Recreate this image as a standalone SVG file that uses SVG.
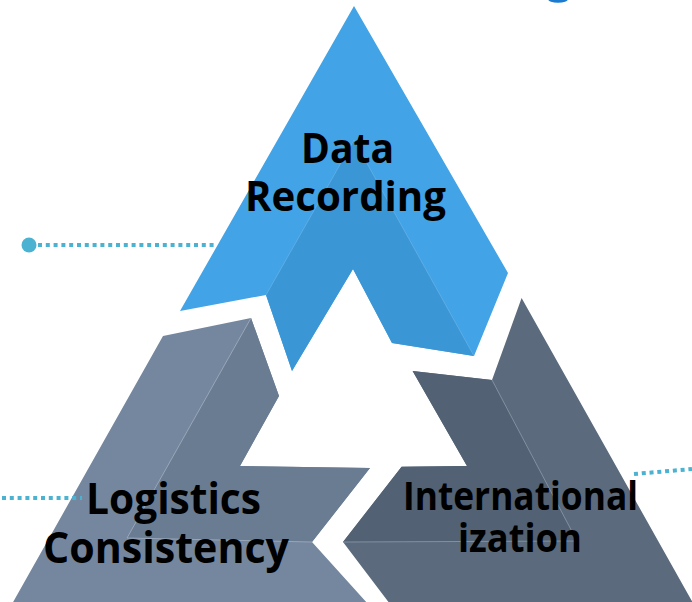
<svg xmlns="http://www.w3.org/2000/svg" width="692" height="602" viewBox="0 0 692 602">
  <style>
    .lbl { font-family: "Open Sans", "Noto Sans", "Liberation Sans", sans-serif; font-weight: 700; fill: #000000; }
    .edge { fill: none; stroke-width: 0.8; }
    .dots { fill: none; stroke: #4BB3D1; stroke-width: 4; stroke-dasharray: 4 3.8; }
  </style>
  <rect x="0" y="0" width="692" height="602" fill="#FFFFFF"/>
  <ellipse cx="558" cy="-1" rx="10" ry="3.8" fill="#1A7BD0"/>

  <g id="connectors">
    <circle cx="29" cy="245" r="7.5" fill="#4BB3D1"/>
    <line class="dots" x1="38" y1="245" x2="216" y2="245"/>
  </g>

  <g id="data-recording">
    <polygon points="354,6 180,311 266,295 292,371 353,269 392,343 474,356 508,273" fill="#42A3E6"/>
    <polygon points="266,295 354,140 474,356 392,343 353,269 292,371" fill="#3B96D6"/>
    <polyline class="edge" points="266,295 354,140 474,356" stroke="#7FC0EC" stroke-opacity="0.6"/>
    <text class="lbl" x="301" y="163" font-size="42" textLength="93" lengthAdjust="spacingAndGlyphs">Data</text>
    <text class="lbl" x="245" y="211" font-size="42" textLength="201" lengthAdjust="spacingAndGlyphs">Recording</text>
  </g>

  <g id="logistics-consistency">
    <polygon points="163,336 251,318 279,396 240,466 370,468 312,542 368,604 12,604" fill="#74879F"/>
    <polygon points="251,318 279,396 240,466 370,468 312,542 127,538" fill="#6A7C92"/>
    <polyline class="edge" points="251,318 127,538 312,542" stroke="#A3B0C0"/>
    <text class="lbl" x="86" y="514" font-size="43" textLength="175" lengthAdjust="spacingAndGlyphs">Logistics</text>
    <text class="lbl" x="43" y="563" font-size="43" textLength="246" lengthAdjust="spacingAndGlyphs">Consistency</text>
  </g>

  <g id="internationalization">
    <polygon points="521.6,298 693,603 390,604 343,542 401.6,466.7 467,466 412.6,371 492,380" fill="#5B6B7D"/>
    <polygon points="412.6,371 492,380 577,541 343,542 401.6,466.7 467,466" fill="#526274"/>
    <polyline class="edge" points="492,380 577,541 343,542" stroke="#8E9BAB"/>
    <text class="lbl" x="403" y="509.5" font-size="39" textLength="235" lengthAdjust="spacingAndGlyphs">International</text>
    <text class="lbl" x="458" y="552" font-size="39" textLength="124" lengthAdjust="spacingAndGlyphs">ization</text>
  </g>

  <g id="connectors-2">
    <line class="dots" x1="2" y1="498" x2="82" y2="498"/>
    <line class="dots" x1="634" y1="474" x2="692" y2="469"/>
  </g>
</svg>
